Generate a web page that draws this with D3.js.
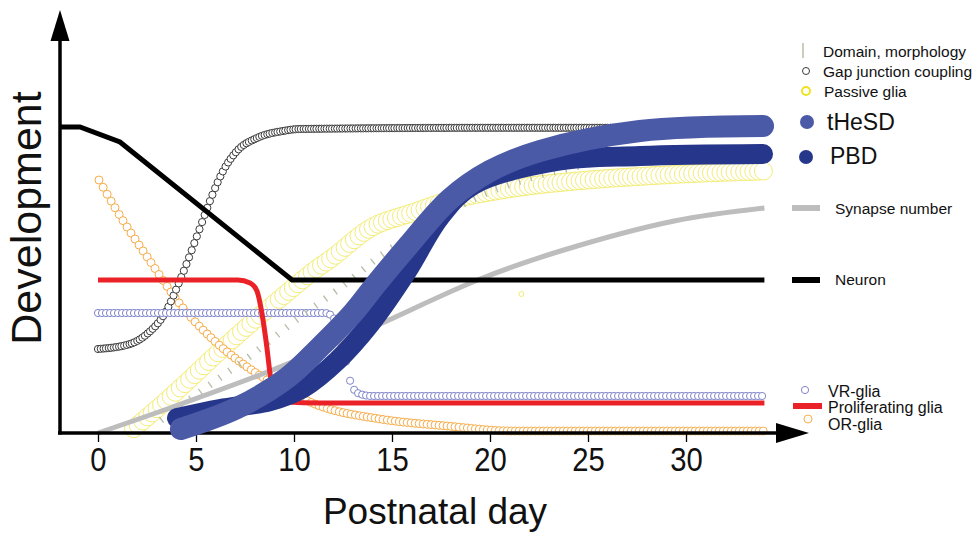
<!DOCTYPE html>
<html>
<head>
<meta charset="utf-8">
<script src="https://cdn.jsdelivr.net/npm/d3@7"></script>
<style>
  body { margin: 0; background: #fff; }
  text { font-family: "Liberation Sans", Arial, sans-serif; fill: #111; }
</style>
</head>
<body>
<div id="chart"></div>
<script>
// values: [postnatal day, development (0-100)]
const tickDays = [0, 5, 10, 15, 20, 25, 30];

const neuron = [[-1.9, 76.5], [-0.92, 76.5], [1.12, 72.75], [9.9, 38.25], [34, 38.25]];
const gapJunction = [[0, 21], [1.63, 22.25], [2.5, 24.75], [3.42, 30], [4.23, 38.75], [5.2, 51.25],
  [5.71, 58], [6.38, 65.5], [7.09, 70.5], [8.11, 73.75], [9.44, 75.5], [10.31, 76], [20, 76.3], [34, 76.3]];
const passiveGlia = [[1.8, 1], [3, 6], [4.2, 11.25], [6, 19.5], [8, 28.25], [10, 36.5], [11, 40.5],
  [12, 44], [14, 51.5], [16, 55], [18, 58.25], [20, 60.25], [22, 61.75], [25, 63.25], [28, 64.25],
  [31, 65], [34, 65.5]];
const passiveStray = [[21.6, 34.75]];
const orGlia = [[0.05, 63.25], [0.97, 55.5], [2.65, 43], [4.34, 31.25], [6.12, 22.25], [7.91, 15.5],
  [9.64, 10.5], [11.33, 6.75], [14.39, 3.5], [17.81, 1.75], [21.17, 0.5], [34, 0.5]];
const vrGlia = [[0, 30], [11.58, 30], [11.99, 29], [12.24, 26], [12.45, 22.25], [12.65, 18],
  [12.81, 14], [13.01, 11.25], [13.37, 9.75], [13.98, 9.25], [34, 9.25]];
const proliferating = [[0, 38.25], [7.14, 38.25], [7.76, 37.5], [8.11, 35.5], [8.37, 29.75],
  [8.62, 21.25], [8.78, 14.75], [8.98, 9.75], [9.64, 7.75], [11.33, 7.5], [34, 7.5]];
const synapse = [[0, 0], [3.67, 6.25], [8.78, 15.5], [12.2, 22.5], [14.5, 27.5], [19.5, 38.5],
  [23.6, 45.5], [29.4, 53], [34, 56.25]];
const domain = [[3.16, 3], [5.2, 10.25], [7.76, 19.25], [10.31, 29], [12.35, 36.25], [14.54, 44.75],
  [16.94, 52.5], [19.49, 59.25], [22.04, 63.75], [24.59, 66.75], [26.89, 69]];
const tHeSD = [[4.23, 1], [7.09, 6.25], [9.64, 13.75], [11.33, 21.5], [13.01, 30], [14.23, 37.5],
  [15.77, 46.5], [17.96, 58.5], [20, 65.5], [22.55, 70.5], [27.65, 75.5], [33.93, 76.75]];
const pbd = [[4.03, 3.75], [6.22, 6], [8.78, 8], [10.46, 11.25], [12.19, 18], [13.88, 27.25],
  [15.77, 40.5], [17.45, 54], [19.13, 62], [23.42, 68], [27.65, 69.25], [33.93, 69.75]];

const colors = {
  tHeSD: "#4b5aa7", pbd: "#26378b", red: "#ea2227", vr: "#7f85c9", or: "#f6ad4a",
  passive: "#f3ec74", gap: "#3a3a3a", synapse: "#bdbdbd", domain: "#b4bea6"
};

let svgWidth = 977;
let svgHeight = 533;

let x = d3.scaleLinear().domain([0, 30]).range([98, 686]);
let y = d3.scaleLinear().domain([0, 100]).range([433, 33]);

let svg = d3.select("#chart")
  .append("svg")
  .attr("width", svgWidth)
  .attr("height", svgHeight);

let straight = d3.line().x(d => x(d[0])).y(d => y(d[1]));
let smooth = d3.line().x(d => x(d[0])).y(d => y(d[1])).curve(d3.curveMonotoneX);
let soft = d3.line().x(d => x(d[0])).y(d => y(d[1])).curve(d3.curveCatmullRom.alpha(0.5));

// circle "brush": open circles stamped along the curve at a fixed x step
function circleBrush(data, gen, step, r, stroke, width) {
  let tmp = svg.append("path").attr("d", gen(data)).attr("fill", "none");
  let node = tmp.node();
  let len = node.getTotalLength();
  let samples = [];
  for (let l = 0; l <= len; l += 0.4) samples.push(node.getPointAtLength(l));
  tmp.remove();
  let bis = d3.bisector(p => p.x).left;
  let pts = [];
  let x1 = x(data[data.length - 1][0]);
  for (let px = x(data[0][0]); px <= x1 + 0.01; px += step) {
    pts.push(samples[Math.min(bis(samples, px), samples.length - 1)]);
  }
  svg.append("g").selectAll("circle")
    .data(pts)
    .enter()
    .append("circle")
    .attr("cx", d => d.x)
    .attr("cy", d => d.y)
    .attr("r", r)
    .attr("fill", "#fff")
    .attr("stroke", stroke)
    .attr("stroke-width", width);
}

// hatch "brush": short strokes across the curve
function hatchBrush(data, step, size, stroke) {
  let tmp = svg.append("path").attr("d", soft(data)).attr("fill", "none");
  let node = tmp.node();
  let len = node.getTotalLength();
  let marks = [];
  for (let l = 2; l < len; l += step) {
    let a = node.getPointAtLength(l), b = node.getPointAtLength(Math.min(l + 1, len));
    let ang = Math.atan2(b.y - a.y, b.x - a.x);
    let nx = -Math.sin(ang) * size / 2, ny = Math.cos(ang) * size / 2;
    marks.push({ x1: a.x - nx, y1: a.y - ny, x2: a.x + nx, y2: a.y + ny });
  }
  tmp.remove();
  svg.append("g").selectAll("line")
    .data(marks)
    .enter()
    .append("line")
    .attr("x1", d => d.x1).attr("y1", d => d.y1)
    .attr("x2", d => d.x2).attr("y2", d => d.y2)
    .attr("stroke", stroke)
    .attr("stroke-width", 1.3);
}

// series, back to front
circleBrush(passiveGlia, soft, 4.7, 9, colors.passive, 1);
svg.selectAll(".stray")
  .data(passiveStray)
  .enter()
  .append("circle")
  .attr("cx", d => x(d[0]))
  .attr("cy", d => y(d[1]))
  .attr("r", 2.5)
  .attr("fill", "none")
  .attr("stroke", colors.passive);
circleBrush(orGlia, smooth, 4, 4, colors.or, 1);
circleBrush(gapJunction, smooth, 2.6, 3.6, colors.gap, 1);
circleBrush(vrGlia, smooth, 4, 3.6, colors.vr, 1);
hatchBrush(domain, 12, 7, colors.domain);

svg.append("path").attr("d", soft(synapse))
  .attr("fill", "none").attr("stroke", colors.synapse).attr("stroke-width", 5);
svg.append("path").attr("d", straight(neuron))
  .attr("fill", "none").attr("stroke", "#000").attr("stroke-width", 5);
svg.append("path").attr("d", smooth(proliferating))
  .attr("fill", "none").attr("stroke", colors.red).attr("stroke-width", 5);

// axes
let axisY = y(0);
svg.append("line").attr("x1", 58).attr("x2", 780).attr("y1", axisY).attr("y2", axisY)
  .attr("stroke", "#000").attr("stroke-width", 3.5);
svg.append("path").attr("d", `M776,${axisY - 10}L809,${axisY}L776,${axisY + 10}Z`).attr("fill", "#000");
svg.append("line").attr("x1", 60).attr("x2", 60).attr("y1", axisY + 1.5).attr("y2", 38)
  .attr("stroke", "#000").attr("stroke-width", 3.5);
svg.append("path").attr("d", "M50.5,41L60,10L69.5,41Z").attr("fill", "#000");

let xAxis = svg.append("g")
  .attr("transform", `translate(0, ${axisY})`)
  .call(d3.axisBottom(x).tickValues(tickDays).tickSize(9).tickPadding(5).tickFormat(d3.format("d")));
xAxis.select(".domain").remove();
xAxis.selectAll(".tick line").attr("stroke", "#000").attr("stroke-width", 1.3);
xAxis.selectAll(".tick text")
  .attr("font-size", 34)
  .attr("font-family", "Liberation Sans, Arial, sans-serif")
  .attr("fill", "#111")
  .attr("transform", "scale(0.86,1)");

svg.append("path").attr("d", soft(pbd))
  .attr("fill", "none").attr("stroke", colors.pbd).attr("stroke-width", 20).attr("stroke-linecap", "round");
svg.append("path").attr("d", soft(tHeSD))
  .attr("fill", "none").attr("stroke", colors.tHeSD).attr("stroke-width", 22).attr("stroke-linecap", "round");

// axis titles
svg.append("text")
  .attr("transform", "translate(41, 218) rotate(-90)")
  .attr("text-anchor", "middle")
  .attr("font-size", 43)
  .text("Development");

svg.append("text")
  .attr("x", 435)
  .attr("y", 524)
  .attr("text-anchor", "middle")
  .attr("font-size", 37)
  .text("Postnatal day");

// legend
let legend = svg.append("g");
legend.append("line").attr("x1", 803).attr("x2", 803).attr("y1", 43).attr("y2", 58)
  .attr("stroke", colors.domain).attr("stroke-width", 1.5);
legend.append("circle").attr("cx", 806).attr("cy", 71).attr("r", 3.5)
  .attr("fill", "#fff").attr("stroke", colors.gap);
legend.append("circle").attr("cx", 806).attr("cy", 91).attr("r", 4)
  .attr("fill", "#fff").attr("stroke", "#eee31f").attr("stroke-width", 2);
legend.append("circle").attr("cx", 807).attr("cy", 122).attr("r", 7).attr("fill", colors.tHeSD);
legend.append("circle").attr("cx", 806).attr("cy", 157).attr("r", 7).attr("fill", colors.pbd);
legend.append("line").attr("x1", 792).attr("x2", 820).attr("y1", 208).attr("y2", 208)
  .attr("stroke", colors.synapse).attr("stroke-width", 6);
legend.append("line").attr("x1", 792).attr("x2", 820).attr("y1", 280).attr("y2", 280)
  .attr("stroke", "#000").attr("stroke-width", 6);
legend.append("circle").attr("cx", 805).attr("cy", 390).attr("r", 3.6)
  .attr("fill", "#fff").attr("stroke", colors.vr);
legend.append("line").attr("x1", 793).attr("x2", 822).attr("y1", 406).attr("y2", 406)
  .attr("stroke", colors.red).attr("stroke-width", 6);
legend.append("circle").attr("cx", 808).attr("cy", 419).attr("r", 4)
  .attr("fill", "#fff").attr("stroke", colors.or);

let legendText = [
  { t: "Domain, morphology", x: 823, y: 57, s: 15.5 },
  { t: "Gap junction coupling", x: 823, y: 77, s: 15.5 },
  { t: "Passive glia", x: 824, y: 97, s: 15.5 },
  { t: "tHeSD", x: 827, y: 130, s: 23 },
  { t: "PBD", x: 830, y: 164, s: 23 },
  { t: "Synapse number", x: 835, y: 214, s: 15.5 },
  { t: "Neuron", x: 835, y: 285, s: 15.5 },
  { t: "VR-glia", x: 828, y: 397, s: 16 },
  { t: "Proliferating glia", x: 828, y: 413, s: 16 },
  { t: "OR-glia", x: 828, y: 430, s: 16 }
];
legend.selectAll("text")
  .data(legendText)
  .enter()
  .append("text")
  .attr("x", d => d.x)
  .attr("y", d => d.y)
  .attr("font-size", d => d.s)
  .text(d => d.t);
</script>
</body>
</html>
